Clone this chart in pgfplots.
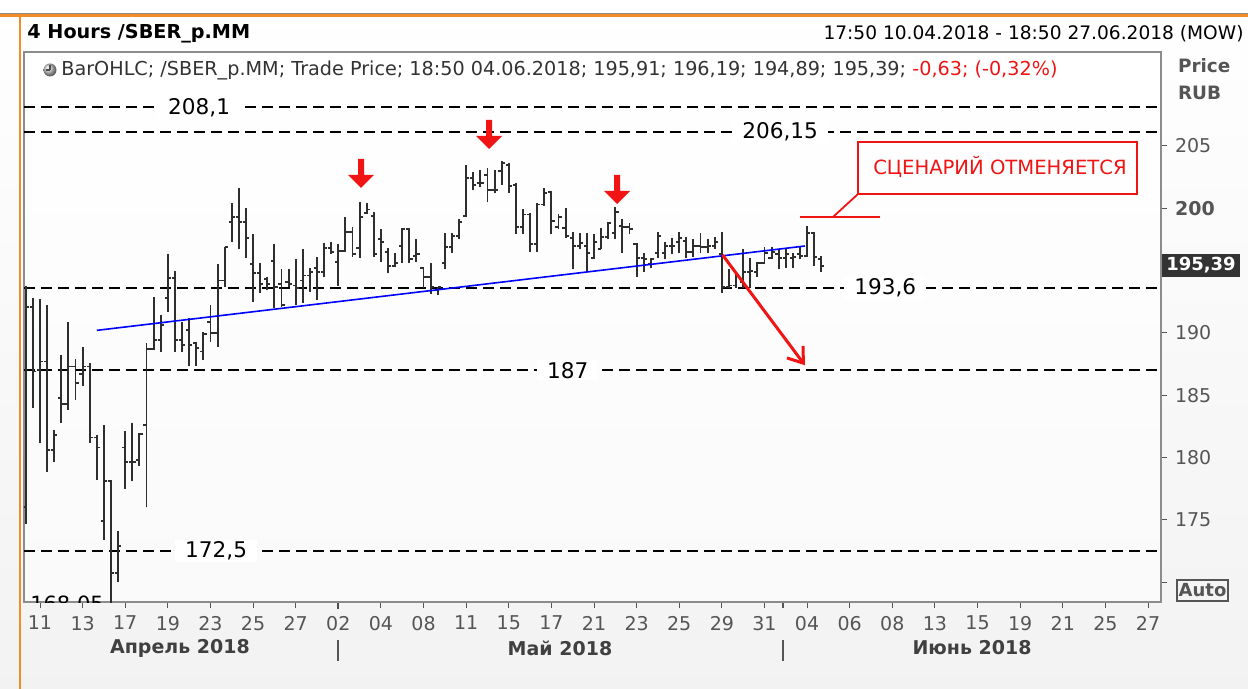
\documentclass[border=0pt]{standalone}
\usepackage{fontspec}
\setmainfont{DejaVu Sans}
\usepackage{pgfplots}
\pgfplotsset{compat=1.18}
\usepackage{pgfplotstable}
\usetikzlibrary{arrows.meta}

\definecolor{barc}{HTML}{2E2E2E}
\definecolor{tickc}{HTML}{555555}
\definecolor{framec}{HTML}{8C8C8C}
\definecolor{redc}{HTML}{F01414}
\definecolor{orng}{HTML}{F28C28}

% 4-hour bars, index 0 = 10.04 last bar, 3 bars per trading day
\pgfplotstableread{
i o h l c
0 176.0 193.8 174.7 192.1
1 192.1 192.8 184.0 186.9
2 187.0 192.7 181.2 187.7
3 187.7 192.2 178.8 180.6
4 180.6 182.2 179.6 181.8
5 184.8 188.2 182.8 184.3
6 184.3 190.9 183.8 187.3
7 187.3 187.9 184.6 186.0
8 186.7 188.9 185.7 187.3
9 187.3 187.6 181.2 181.6
10 181.6 181.8 178.2 180.8
11 174.9 182.6 173.4 178.1
12 178.1 178.2 168.05 170.7
13 170.7 174.1 170.0 172.9
14 180.8 182.1 177.5 179.6
15 179.6 182.8 178.1 179.6
16 179.8 182.0 179.3 181.9
17 182.6 189.2 176.0 188.7
18 188.7 192.9 188.6 189.4
19 189.4 191.4 188.5 190.6
20 192.8 196.3 191.7 194.4
21 194.4 195.0 188.5 189.4
22 189.4 190.9 188.5 189.0
23 190.2 191.2 187.3 189.0
24 189.2 189.3 187.3 188.8
25 188.5 190.1 187.8 189.9
26 190.9 192.2 189.3 190.0
27 190.0 195.5 188.9 194.2
28 194.2 196.9 193.7 196.9
29 198.9 200.4 197.3 199.3
30 199.3 201.6 196.7 198.9
31 198.9 200.0 196.0 197.6
32 195.5 197.9 192.5 194.8
33 194.8 195.6 193.2 193.9
34 194.3 194.5 193.4 193.9
35 195.8 197.1 192.0 193.7
36 193.9 195.1 192.1 192.2
37 194.1 195.1 193.7 193.9
38 193.8 195.9 192.2 193.6
39 194.2 196.7 192.4 194.6
40 194.6 195.2 193.3 194.9
41 195.2 196.1 192.6 194.9
42 194.9 197.2 194.5 196.8
43 196.8 197.3 196.3 196.5
44 195.7 197.1 193.8 196.6
45 196.6 199.3 196.5 198.1
46 198.1 198.5 196.1 196.3
47 196.8 200.5 196.0 199.3
48 199.6 200.4 199.5 199.9
49 199.4 199.7 196.1 196.3
50 197.5 198.3 195.7 197.3
51 196.5 196.8 194.8 195.4
52 195.4 196.4 195.3 195.6
53 197.0 198.4 195.6 198.3
54 198.3 198.4 195.6 195.9
55 196.2 197.5 195.7 196.3
56 195.2 195.3 193.6 194.5
57 194.5 195.6 193.1 193.7
58 193.4 193.7 193.0 193.7
59 195.6 198.0 195.1 196.9
60 196.9 198.0 196.4 197.8
61 197.8 199.1 197.5 198.9
62 199.4 203.5 199.3 202.4
63 202.4 202.9 201.5 201.9
64 202.0 203.1 201.7 202.0
65 202.7 203.2 200.5 201.5
66 201.5 203.1 201.2 201.5
67 203.0 203.8 201.9 203.6
68 203.5 203.6 201.2 201.8
69 201.9 202.0 197.9 198.5
70 198.5 199.9 197.9 199.5
71 199.5 199.6 196.5 197.1
72 197.1 200.4 196.5 200.3
73 200.3 201.6 200.2 201.2
74 201.3 201.4 197.9 199.0
75 198.5 199.5 198.3 199.3
76 198.4 200.0 197.6 197.8
77 197.6 198.1 195.1 197.0
78 197.0 198.0 196.7 197.2
79 197.0 198.0 194.9 196.4
80 196.0 197.9 195.9 197.3
81 196.7 198.4 196.7 197.7
82 197.7 198.9 197.5 198.8
83 198.0 200.1 197.5 199.7
84 198.6 199.1 196.4 198.5
85 198.5 198.8 197.9 198.3
86 197.1 197.2 194.5 196.0
87 196.0 196.4 194.9 195.9
88 195.5 196.0 195.2 195.9
89 196.4 198.1 196.0 197.8
90 196.4 197.3 195.9 197.0
91 197.0 197.6 196.3 197.0
92 197.3 198.1 196.4 197.6
93 197.4 197.7 196.0 196.5
94 196.5 197.5 196.1 197.0
95 197.0 198.0 196.4 196.9
96 196.9 197.5 196.4 197.0
97 197.0 197.7 196.7 197.3
98 196.3 198.1 193.2 193.7
99 193.7 195.1 193.6 193.8
100 193.8 194.9 193.6 194.6
101 194.1 196.7 193.6 194.9
102 194.9 196.0 193.6 195.0
103 194.9 195.7 194.5 195.6
104 195.6 196.9 195.5 196.4
105 196.0 196.9 195.9 196.5
106 196.3 196.7 195.1 196.0
107 196.0 196.8 195.2 196.3
108 196.0 196.4 195.2 196.1
109 196.3 196.9 195.9 196.2
110 196.2 198.6 196.1 198.0
111 198.0 198.1 195.4 196.1
112 195.91 196.19 194.89 195.39
}\ohlc

\begin{document}
\begin{tikzpicture}
\tikzset{px/.style={x=0.5pt,y=-0.5pt}}
\begin{scope}[px]
  \useasboundingbox (0,0) rectangle (1248,689);
  \shade[top color=white, bottom color=black!5] (0,0) rectangle (1248,689);
  \draw[black!45, line width=0.5pt] (0,13.5) -- (1248,13.5);
  \fill[orng] (0,14.5) rectangle (1248,17);
  \fill[orng] (18.5,14.5) rectangle (21,689);
  \node[anchor=west, inner sep=0pt, font=\bfseries\fontsize{9.6}{11}\selectfont] at (27,34) {4 Hours /SBER\_p.MM};
  \node[anchor=east, inner sep=0pt, font=\fontsize{9.3}{11}\selectfont] at (1244,34) {17:50 10.04.2018 - 18:50 27.06.2018 (MOW)};
\end{scope}

\begin{axis}[
  at={(12pt,-26pt)}, anchor=north west,
  scale only axis, width=568.5pt, height=275pt,
  xmin=-0.253, xmax=159.83, ymin=168.40, ymax=212.54,
  axis background/.style={shade, top color=white, bottom color=black!2},
  axis line style={framec, line width=0.6pt},
  tick style={tickc, line width=0.5pt},
  tick align=outside, major tick length=3pt,
  xtick pos=bottom, ytick pos=right,
  xtick={2,8,...,158},
  xticklabels={11,13,17,19,23,25,27,02,04,08,11,15,17,21,23,25,29,31,04,06,08,13,15,19,21,25,27},
  ytick={170,175,180,185,190,200,205},
  yticklabels={,175,180,185,190,\textbf{200},205},
  ticklabel style={font=\fontsize{9.5}{11}\selectfont, text=tickc},
  xticklabel style={yshift=-0.5pt},
  yticklabel style={xshift=0.5pt},
]
  % support / resistance levels
  \tikzset{lvlline/.style={black, line width=1pt, dash pattern=on 5.5pt off 3pt}}
  \draw[lvlline] (axis cs:-0.253,208.1) -- (axis cs:159.83,208.1);
  \draw[lvlline] (axis cs:-0.253,206.15) -- (axis cs:159.83,206.15);
  \draw[lvlline] (axis cs:-0.253,193.6) -- (axis cs:159.83,193.6);
  \draw[lvlline] (axis cs:-0.253,187) -- (axis cs:159.83,187);
  \draw[lvlline] (axis cs:-0.253,172.5) -- (axis cs:159.83,172.5);
  \tikzset{lvl/.style={fill=white, inner xsep=5pt, inner ysep=1pt, font=\fontsize{10.8}{12}\selectfont}}
  \node[lvl] at (axis cs:24.4,208.1) {208,1};
  \node[lvl] at (axis cs:106.2,206.15) {206,15};
  \node[lvl] at (axis cs:121.0,193.6) {193,6};
  \node[lvl] at (axis cs:76.3,187) {187};
  \node[lvl] at (axis cs:26.8,172.5) {172,5};

  % OHLC bars
  \addplot[barc, line width=0.95pt, mark=none, quiver={u=0, v=\thisrow{h}-\thisrow{l}}] table[x=i, y=l] {\ohlc};
  \addplot[barc, line width=0.95pt, mark=none, quiver={u=-0.45, v=0}] table[x=i, y=o] {\ohlc};
  \addplot[barc, line width=0.95pt, mark=none, quiver={u=0.45, v=0}] table[x=i, y=c] {\ohlc};

  % trend line and projected move
  \addplot[blue, line width=0.8pt] coordinates {(10,190.2) (109.7,196.97)};
  \addplot[redc, line width=1.5pt, -{Straight Barb[length=7pt, width=10pt]}] coordinates {(98.1,196.25) (109.7,187.4)};
\end{axis}

\begin{scope}[px]
  % legend line
  \shade[ball color=gray!40] (50,70) circle (6.5);
  \draw[black!70, line width=0.6pt] (50,70) -- (50,65) (50,70) -- (46,70);
  \node[anchor=west, text=black!80, font=\fontsize{9.6}{11}\selectfont, inner sep=0pt] at (61,70)
    {BarOHLC; /SBER\_p.MM; Trade Price; 18:50 04.06.2018; 195,91; 196,19; 194,89; 195,39; \textcolor{redc}{-0,63; (-0,32\%)}};
  % label of the lowest low, cut by the frame
  \begin{scope}
    \clip (24,52) rectangle (1161,602);
    \node[font=\fontsize{10.5}{12}\selectfont, inner sep=0pt] at (67,605) {168,05};
  \end{scope}
  % red markers over the peaks
  \foreach \cx/\ty in {361/159, 489/120, 617/175} {
    \fill[redc] (\cx-3,\ty) -- (\cx+3,\ty) -- (\cx+3,\ty+16) -- (\cx+13,\ty+16) -- (\cx,\ty+29) -- (\cx-13,\ty+16) -- (\cx-3,\ty+16) -- cycle;
  }
  % callout
  \draw[redc, line width=0.9pt] (858,142) rectangle (1137,194);
  \node[text=redc, font=\fontsize{9.8}{11}\selectfont] at (1000,167) {СЦЕНАРИЙ ОТМЕНЯЕТСЯ};
  \draw[redc, line width=0.9pt] (858,194) -- (833,217);
  \draw[redc, line width=0.9pt] (800,217) -- (880,217);
  % right-hand price scale extras
  \node[anchor=west, text=tickc, font=\bfseries\fontsize{9.2}{11}\selectfont] at (1171,66) {Price};
  \node[anchor=west, text=tickc, font=\bfseries\fontsize{9.2}{11}\selectfont] at (1171,93) {RUB};
  \fill[black!80] (1162,254) rectangle (1240,277);
  \node[text=white, font=\bfseries\fontsize{9}{11}\selectfont] at (1201,265.5) {195,39};
  \draw[tickc, line width=0.7pt] (1177,580) rectangle (1228,601);
  \node[text=tickc, font=\bfseries\fontsize{9}{11}\selectfont] at (1202.5,590.5) {Auto};
  % month captions
  \draw[black!70, line width=0.8pt] (338,603) -- (338,609);
  \draw[tickc, line width=0.7pt] (783,603) -- (783,608);
  \draw[tickc, line width=0.7pt] (338,640) -- (338,661);
  \draw[tickc, line width=0.7pt] (783,640) -- (783,661);
  \tikzset{mon/.style={text=black!75, font=\bfseries\fontsize{9.5}{11}\selectfont}}
  \node[mon] at (180,648) {Апрель 2018};
  \node[mon] at (560,648) {Май 2018};
  \node[mon] at (972,648) {Июнь 2018};
\end{scope}
\end{tikzpicture}
\end{document}
